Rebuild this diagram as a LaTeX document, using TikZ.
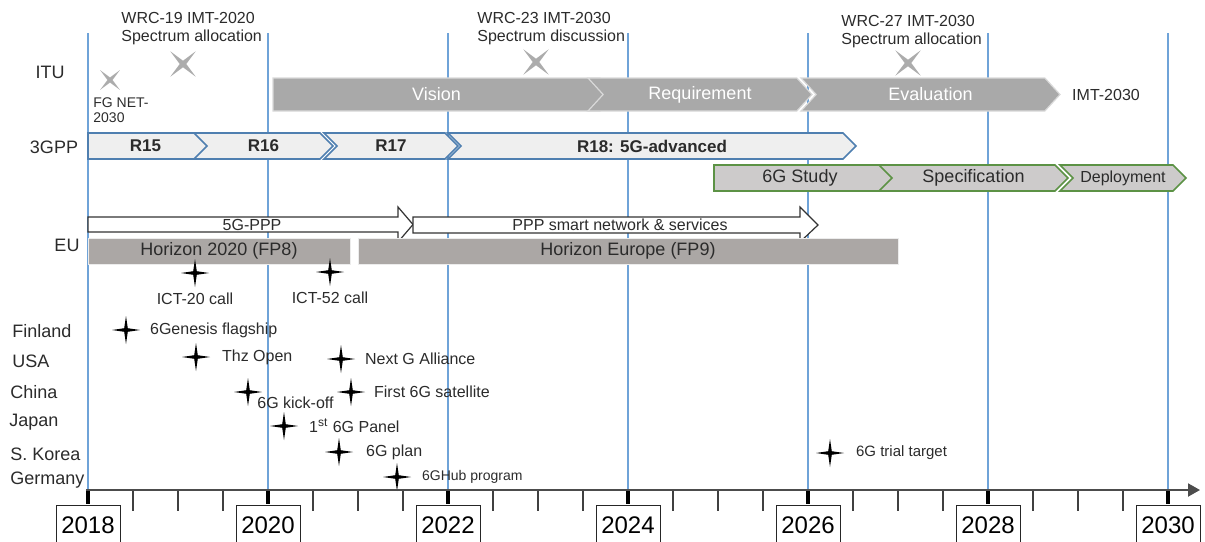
\documentclass[tikz,border=0pt]{standalone}
\usepackage{fontspec}
\setmainfont{Liberation Sans}
\usepackage{tikz}
\usetikzlibrary{arrows.meta,positioning,shapes.geometric,shapes.symbols}
\definecolor{YearBlue}{HTML}{6FA3D8}
\definecolor{ItuGray}{HTML}{A9A9A9}
\definecolor{GppBlue}{HTML}{4F7FB0}
\definecolor{GppFill}{HTML}{EFEFEF}
\definecolor{SixGreen}{HTML}{5C9245}
\definecolor{SixFill}{HTML}{CDCBCB}
\definecolor{HorizonGray}{HTML}{ABA7A5}
\definecolor{InkGray}{HTML}{2B2B2B}
\tikzset{
  yearline/.style={draw=YearBlue, line width=0.55pt},
  ituseg/.style={shape=signal, signal to=east, signal pointer angle=95, fill=ItuGray,
    draw=gray!30, line width=0.6pt, minimum height=16.5pt, inner sep=0pt, text=white,
    font=\fontsize{9}{10}\selectfont},
  gppseg/.style={shape=signal, signal to=east, signal pointer angle=90, fill=GppFill,
    draw=GppBlue, line width=0.8pt, minimum height=13pt, inner sep=0pt, text=InkGray,
    font=\bfseries\fontsize{8.5}{10}\selectfont},
  sixseg/.style={gppseg, fill=SixFill, draw=SixGreen, font=\fontsize{9}{10}\selectfont},
  sparkle/.style={shape=star, star points=4, star point ratio=5.5, minimum size=14pt,
    inner sep=0pt, fill=black, draw=none},
  itumark/.style={sparkle, fill=gray!65, shape border rotate=45, minimum size=18pt},
  evlabel/.style={inner sep=1pt, text=InkGray, font=\fontsize{8}{9}\selectfont}
}

\begin{document}
\begin{tikzpicture}[
  x=0.5pt, y=-0.5pt,
  rowlabel/.style={inner sep=0pt, text=InkGray, font=\fontsize{9}{10}\selectfont},
  note/.style={inner sep=0pt, anchor=west, align=left, text=InkGray, font=\fontsize{8}{9}\selectfont},
  ppparrow/.style={fill=white, draw=black!80, line width=0.6pt, line join=miter},
  horizon/.style={fill=HorizonGray, draw=white!85!gray, line width=0.4pt, minimum height=13pt,
    inner sep=0pt, text=InkGray, font=\fontsize{9}{10}\selectfont},
  yearbox/.style={draw=black!85, fill=white, line width=0.5pt, minimum width=32pt,
    minimum height=20pt, inner sep=0pt, anchor=north, font=\fontsize{12}{14}\selectfont}
]
\useasboundingbox (0,0) rectangle (1205,541);

% year grid
\foreach \i in {0,...,6}
  \draw[yearline] (88+180*\i,33) -- (88+180*\i,490);

% ITU
\node[rowlabel] (itu) at (50,72) {ITU};
\node[ituseg, minimum width=171pt] (vision) at (436.5,94.5) {Vision};
\node[ituseg, signal from=west, minimum width=112pt] (requirement) at (700,94.5) {Requirement};
\node[ituseg, signal from=west, minimum width=129.5pt] (evaluation) at (930.5,94.5) {Evaluation};
\node[evlabel, inner sep=0pt, right=5.5pt of evaluation] (imt) {IMT-2030};
\node[itumark, minimum size=14pt] (fgnet) at (110,80) {};
\node[itumark] (wrc19) at (183,64) {};
\node[itumark] (wrc23) at (536,62) {};
\node[itumark] (wrc27) at (908,63) {};
\node[note, font=\fontsize{7}{7.5}\selectfont] (fgnettxt) at (93,110) {FG NET-\\2030};
\node[note] (wrc19txt) at (121,29) {WRC-19 IMT-2020\\Spectrum allocation};
\node[note] (wrc23txt) at (477,29) {WRC-23 IMT-2030\\Spectrum discussion};
\node[note] (wrc27txt) at (841,32) {WRC-27 IMT-2030\\Spectrum allocation};

% 3GPP
\node[rowlabel] (gpp) at (54,147) {3GPP};
\node[gppseg, minimum width=64pt] (r15) at (145.5,146) {R15};
\node[gppseg, signal from=west, minimum width=69.5pt] (r16) at (263.5,146) {R16};
\node[gppseg, signal from=west, minimum width=67pt] (r17) at (391,146) {R17};
\node[gppseg, signal from=west, minimum width=204pt] (r18) at (652,146) {R18: 5G-advanced};

% 6G track
\node[sixseg, minimum width=92.5pt] (study) at (800,178) {6G Study};
\node[sixseg, signal from=west, minimum width=94.5pt] (spec) at (973.5,178) {Specification};
\node[sixseg, signal from=west, minimum width=63pt, font=\fontsize{8}{9}\selectfont] (deploy) at (1123,178) {Deployment};

% EU
\node[rowlabel] (eu) at (67,245) {EU};
\draw[ppparrow] (88,217) -- (398,217) -- (398,207) -- (413,224.5) -- (398,242)
  -- (398,232) -- (88,232) -- cycle;
\draw[ppparrow] (413,217) -- (800,217) -- (800,207) -- (818,225) -- (800,242)
  -- (800,233) -- (413,233) -- cycle;
\node[evlabel] (fiveg) at (252,224.5) {5G-PPP};
\node[evlabel] (smartnet) at (620,225) {PPP smart network \& services};
\node[horizon, minimum width=131pt] (fp8) at (219,251) {Horizon 2020 (FP8)};
\node[horizon, minimum width=270pt] (fp9) at (628,251) {Horizon Europe (FP9)};
\node[sparkle] (ict20) at (195,273) {};
\node[sparkle] (ict52) at (330,272) {};
\node[evlabel, below=0.5pt of ict20] (ict20txt) {ICT-20 call};
\node[evlabel, below=0.5pt of ict52] (ict52txt) {ICT-52 call};

% national programmes
\node[rowlabel, anchor=west] (finland) at (12,331) {Finland};
\node[rowlabel, anchor=west] (usa) at (12,361) {USA};
\node[rowlabel, anchor=west] (china) at (10,392) {China};
\node[rowlabel, anchor=west] (japan) at (9,422) {Japan};
\node[rowlabel, anchor=west] (korea) at (10,454) {S. Korea};
\node[rowlabel, anchor=west] (germany) at (10,480) {Germany};

\node[sparkle] (genesis) at (126,330) {};
\node[evlabel, right=2.5pt of genesis] (genesistxt) {6Genesis flagship};
\node[sparkle] (thz) at (196,357) {};
\node[evlabel, right=3.5pt of thz] (thztxt) {Thz Open};
\node[sparkle] (nextg) at (341,359) {};
\node[evlabel, right=2.5pt of nextg] (nextgtxt) {Next G Alliance};
\node[sparkle] (kickoff) at (248,392) {};
\node[evlabel, anchor=west] (kickofftxt) at (255,403) {6G kick-off};
\node[sparkle] (satellite) at (351,392) {};
\node[evlabel, right=2pt of satellite] (satellitetxt) {First 6G satellite};
\node[sparkle] (panel) at (284,426) {};
\node[evlabel, right=3pt of panel] (paneltxt) {1\textsuperscript{st} 6G Panel};
\node[sparkle] (plan) at (339,452) {};
\node[evlabel, right=4pt of plan] (plantxt) {6G plan};
\node[sparkle] (hub) at (397,477) {};
\node[evlabel, right=3pt of hub, font=\fontsize{7}{8}\selectfont] (hubtxt) {6GHub program};
\node[sparkle] (trial) at (830,453) {};
\node[evlabel, right=3.5pt of trial, font=\fontsize{7.5}{8}\selectfont] (trialtxt) {6G trial target};

% time axis
\coordinate (axisstart) at (86,490);
\coordinate (axisend) at (1200,490);
\foreach \y in {0,...,5}
  \foreach \q in {1,2,3}
    \draw[black!75, line width=0.6pt] (88+180*\y+45*\q,490) -- (88+180*\y+45*\q,511);
\foreach \i in {0,...,6}
  \draw[black, line width=2pt] (88+180*\i,490) -- (88+180*\i,504);
\draw[black!70, line width=1pt, -{Triangle[length=6pt,width=6.5pt]}] (axisstart) -- (axisend);
\foreach \yr [count=\i from 0] in {2018,2020,2022,2024,2026,2028,2030}
  \node[yearbox] (yr\yr) at (88+180*\i,505) {\yr};
\end{tikzpicture}
\end{document}
